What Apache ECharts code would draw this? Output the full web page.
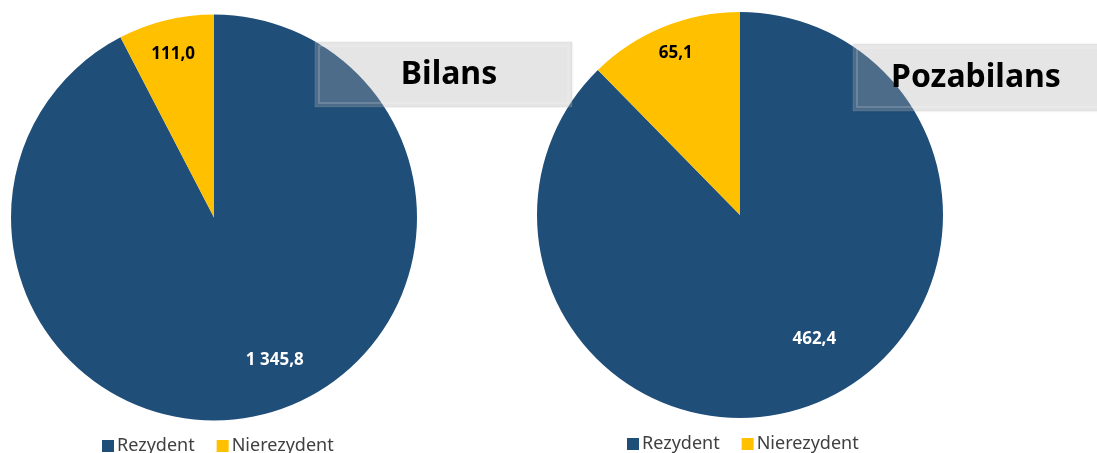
<!DOCTYPE html>
<html>
<head>
<meta charset="utf-8">
<script src="https://cdn.jsdelivr.net/npm/echarts@6/dist/echarts.min.js"></script>
<style>
html,body{margin:0;padding:0;background:#fff;}
#chart{width:1097px;height:453px;}
</style>
</head>
<body>
<div id="chart"></div>
<script>
const categories = ['Rezydent', 'Nierezydent'];
const bilansValues = [1345.8, 111.0];
const pozabilansValues = [462.4, 65.1];
const chartTitles = ['Bilans', 'Pozabilans'];

const colors = ['#1F4E79', '#FFC000'];
const labelColors = ['#ffffff', '#000000'];

function fmt(v) {
  const parts = v.toFixed(1).split('.');
  const intPart = parts[0].replace(/\B(?=(\d{3})+(?!\d))/g, ' ');
  return intPart + ',' + parts[1];
}

const pies = [
  { values: bilansValues, center: [214, 217.5], offsets: [[23, -12], [-3, -8]] },
  { values: pozabilansValues, center: [740, 215], offsets: [[14, -24], [-4, -14]] }
];
const R = 203;

const series = [];
pies.forEach(function (p) {
  series.push({
    type: 'pie',
    center: p.center,
    radius: [0, R],
    startAngle: 90,
    clockwise: true,
    avoidLabelOverlap: false,
    label: { show: false },
    labelLine: { show: false },
    emphasis: { disabled: true },
    itemStyle: { borderWidth: 0 },
    data: categories.map(function (c, i) {
      return { name: c, value: p.values[i], itemStyle: { color: colors[i] } };
    }),
    z: 2
  });
  series.push({
    type: 'pie',
    center: p.center,
    radius: [110, R],
    startAngle: 90,
    clockwise: true,
    silent: true,
    legendHoverLink: false,
    avoidLabelOverlap: false,
    emphasis: { disabled: true },
    itemStyle: { color: 'rgba(0,0,0,0)', borderWidth: 0 },
    labelLine: { show: false },
    data: categories.map(function (c, i) {
      return {
        name: c, value: p.values[i],
        itemStyle: { color: 'rgba(0,0,0,0)' },
        label: {
          show: true, position: 'inside', offset: p.offsets[i],
          formatter: function () { return fmt(p.values[i]); },
          color: labelColors[i], fontFamily: 'Noto Sans', fontWeight: 'bold', fontSize: 17
        }
      };
    }),
    z: 3
  });
});

function titleBox(x, y, w, h, text, tx, ty) {
  return {
    type: 'group', z: 100,
    children: [
      { type: 'rect', shape: { x: x, y: y, width: w, height: h },
        style: { fill: 'rgba(185,185,185,0.3)', stroke: 'rgba(170,170,170,0.2)', lineWidth: 1,
          shadowBlur: 2, shadowColor: 'rgba(0,0,0,0.1)', shadowOffsetX: 1, shadowOffsetY: 1 }, z: 100 },
      { type: 'rect', shape: { x: x + 4, y: y + 4, width: w - 8, height: h - 8 },
        style: { fill: 'rgba(255,255,255,0)', stroke: 'rgba(255,255,255,0.22)', lineWidth: 1.5 }, z: 101 },
      { type: 'text', x: tx, y: ty, z: 102,
        style: { text: text, fill: '#000', fontFamily: 'Noto Sans', fontWeight: 'bold', fontSize: 32,
          align: 'center', verticalAlign: 'middle' } }
    ]
  };
}

const legendCommon = {
  data: categories,
  icon: 'rect', itemWidth: 12, itemHeight: 12, itemGap: 22,
  selectedMode: false,
  textStyle: { fontFamily: 'Noto Sans', fontSize: 18, color: '#404040', padding: [0, 0, 0, -2] },
  padding: 0
};

const option = {
  animation: false,
  legend: [
    Object.assign({}, legendCommon, { left: 102, top: 437 }),
    Object.assign({}, legendCommon, { left: 627, top: 435 })
  ],
  graphic: [
    titleBox(315, 42, 257, 65, chartTitles[0], 449, 75),
    titleBox(853, 44, 260, 67, chartTitles[1], 976, 78)
  ],
  series: series
};

const chart = echarts.init(document.getElementById('chart'), null, { renderer: 'canvas' });
chart.setOption(option);
</script>
</body>
</html>
